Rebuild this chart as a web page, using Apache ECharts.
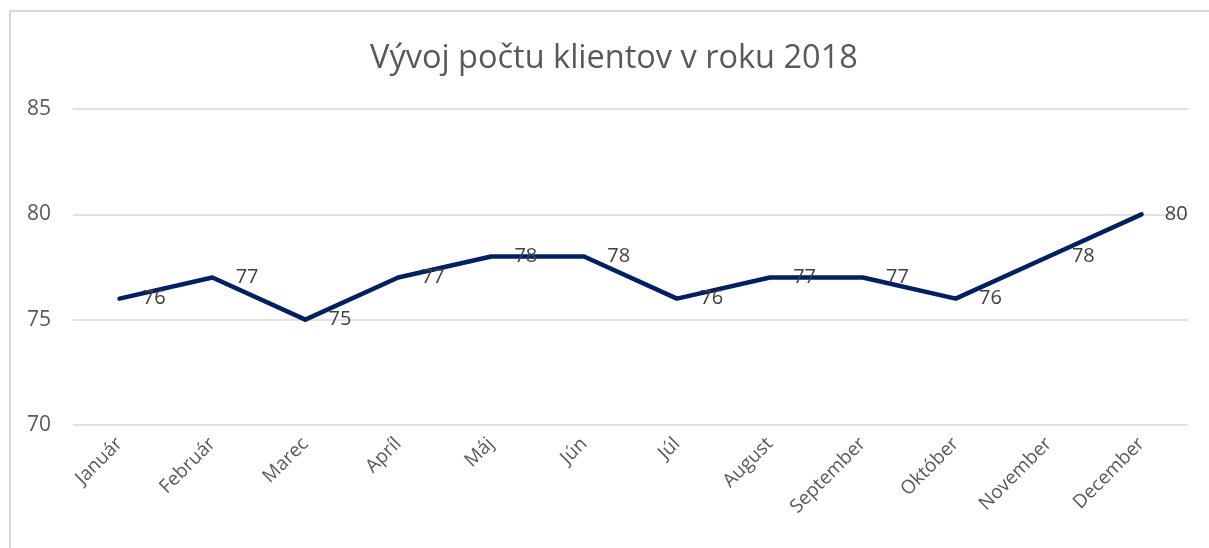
<!DOCTYPE html>
<html>
<head>
<meta charset="utf-8">
<script src="https://cdn.jsdelivr.net/npm/echarts@6/dist/echarts.min.js"></script>
<style>
html,body{margin:0;padding:0;background:#fff;}
#chart{width:1209px;height:548px;}
</style>
</head>
<body>
<div id="chart"></div>
<script>
const titleText = 'Vývoj počtu klientov v roku 2018';
const months = ['Január','Február','Marec','Apríl','Máj','Jún','Júl','August','September','Október','November','December'];
const clients = [76,77,75,77,78,78,76,77,77,76,78,80];
const yTicks = [70,75,80,85];

const chart = echarts.init(document.getElementById('chart'), null, {renderer:'canvas'});
chart.setOption({
  animation:false,
  backgroundColor:'#ffffff',
  graphic:[{
    type:'rect', silent:true,
    shape:{x:10, y:11, width:1300, height:700},
    style:{fill:'none', stroke:'#d9d9d9', lineWidth:2}
  }],
  title:{
    text:titleText, left:365, top:37,
    textStyle:{fontFamily:'Open Sans', fontWeight:'normal', fontSize:32.5, color:'#595959'}
  },
  grid:{left:73, right:21, top:109, bottom:123, containLabel:false},
  xAxis:{
    type:'category', data:months, boundaryGap:true,
    axisLine:{show:false}, axisTick:{show:false},
    axisLabel:{rotate:45, color:'#595959', fontSize:19, fontFamily:'Open Sans', margin:16, interval:0}
  },
  yAxis:{
    type:'value', min:yTicks[0], max:yTicks[yTicks.length-1], interval:5,
    axisLine:{show:false}, axisTick:{show:false},
    axisLabel:{color:'#595959', fontSize:21, fontFamily:'Open Sans', margin:22},
    splitLine:{lineStyle:{color:'#d9d9d9', width:1.5}}
  },
  series:[{
    type:'line', data:clients, symbol:'circle', symbolSize:0.5, showSymbol:true,
    itemStyle:{color:'#002060'},
    lineStyle:{color:'#002060', width:4.5, join:'round', cap:'round'},
    label:{show:true, position:'right', distance:23, offset:[0,5], color:'#404040', fontSize:20, fontFamily:'Open Sans'},
    labelLayout:{hideOverlap:false}
  }]
});
</script>
</body>
</html>
